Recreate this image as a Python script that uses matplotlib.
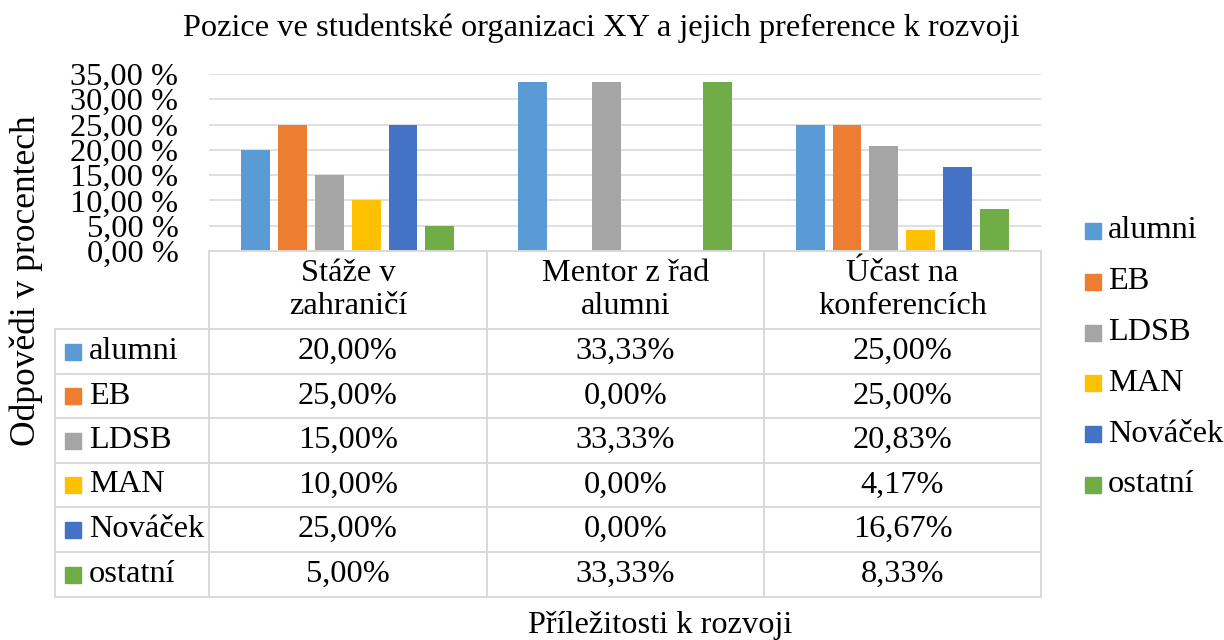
#!/usr/bin/env python

import numpy as np
import matplotlib as mpl
import matplotlib.pyplot as plt
from matplotlib.lines import Line2D
from matplotlib.patches import Rectangle

mpl.rc('font', family=['Liberation Serif', 'DejaVu Serif'], size=23.3)

categories = ['Stáže v\nzahraničí', 'Mentor z řad\nalumni', 'Účast na\nkonferencích']
series = ['alumni', 'EB', 'LDSB', 'MAN', 'Nováček', 'ostatní']
values = {
    'alumni': [20.00, 33.33, 25.00],
    'EB': [25.00, 0.00, 25.00],
    'LDSB': [15.00, 33.33, 20.83],
    'MAN': [10.00, 0.00, 4.17],
    'Nováček': [25.00, 0.00, 16.67],
    'ostatní': [5.00, 33.33, 8.33],
}
colors = ['#5B9BD5', '#ED7D31', '#A5A5A5', '#FFC000', '#4472C4', '#70AD47']
yticks = [0, 5, 10, 15, 20, 25, 30, 35]

title = 'Pozice ve studentské organizaci XY a jejich preference k rozvoji'
ylabel = 'Odpovědi v procentech'
xlabel = 'Příležitosti k rozvoji'

W, H = 1224, 640
GRID = '#D9D9D9'


def fx(x):
    return x / W


def fy(y):
    return 1 - y / H


def main() -> None:

    fig = plt.figure(figsize=(W / 100, H / 100), dpi=100)

    # plot area in pixel coords
    x0, x1 = 209, 1041
    ytop, ybot = 74, 251
    ax = fig.add_axes([fx(x0), fy(ybot), fx(x1) - fx(x0), fy(ytop) - fy(ybot)])

    ncat = len(categories)
    step = 0.133
    width = 0.104
    x = np.arange(ncat)
    for j, (name, col) in enumerate(zip(series, colors)):
        ax.bar(
            x + (j - 2.5) * step,
            values[name],
            width=width,
            color=col,
            zorder=2,
        )

    ax.set_xlim(-0.5, ncat - 0.5)
    ax.set_ylim(0, 35)
    ax.set_yticks(yticks)
    ax.set_yticklabels([f'{v:.2f} %'.replace('.', ',') for v in yticks])
    ax.tick_params(axis='y', length=0, pad=22)
    ax.set_xticks([])
    for s in ax.spines.values():
        s.set_visible(False)
    for v in yticks[1:]:
        ax.axhline(v, color=GRID, lw=1.2, zorder=1)

    # data table
    cols = [209, 487, 764, 1041]
    rows = [329, 374, 418, 463, 507, 552, 597]
    left = 55
    lw = 1.4

    def line(xa, ya, xb, yb):
        fig.add_artist(Line2D([fx(xa), fx(xb)], [fy(ya), fy(yb)], color=GRID, lw=lw))

    line(cols[0], 251, cols[-1], 251)
    for c in cols:
        line(c, 251, c, rows[-1])
    for r in rows:
        line(left, r, cols[-1], r)
    line(left, rows[0], left, rows[-1])

    for i, cat in enumerate(categories):
        cx = (cols[i] + cols[i + 1]) / 2
        fig.text(fx(cx), fy(290), cat, ha='center', va='center', linespacing=1.22)

    for j, (name, col) in enumerate(zip(series, colors)):
        cy = (rows[j] + rows[j + 1]) / 2
        fig.add_artist(Rectangle((fx(65), fy(cy + 8)), fx(16), 16 / H, color=col))
        fig.text(fx(89), fy(cy), name, ha='left', va='center')
        for i in range(ncat):
            cx = (cols[i] + cols[i + 1]) / 2
            txt = f'{values[name][i]:.2f}%'.replace('.', ',')
            fig.text(fx(cx), fy(cy), txt, ha='center', va='center')

    # legend
    for j, (name, col) in enumerate(zip(series, colors)):
        ly = 231 + j * 50.8
        fig.add_artist(Rectangle((fx(1085), fy(ly + 8)), fx(16), 16 / H, color=col))
        fig.text(fx(1108), fy(ly), name, ha='left', va='center')

    fig.text(fx(601), fy(28), title, ha='center', va='center')
    fig.text(fx(26), fy(281), ylabel, ha='center', va='center', rotation=90,
             fontsize=25.5)
    fig.text(fx(660), fy(626), xlabel, ha='center', va='center')

    fig.savefig('out.png', dpi=100)


if __name__ == '__main__':
    main()
